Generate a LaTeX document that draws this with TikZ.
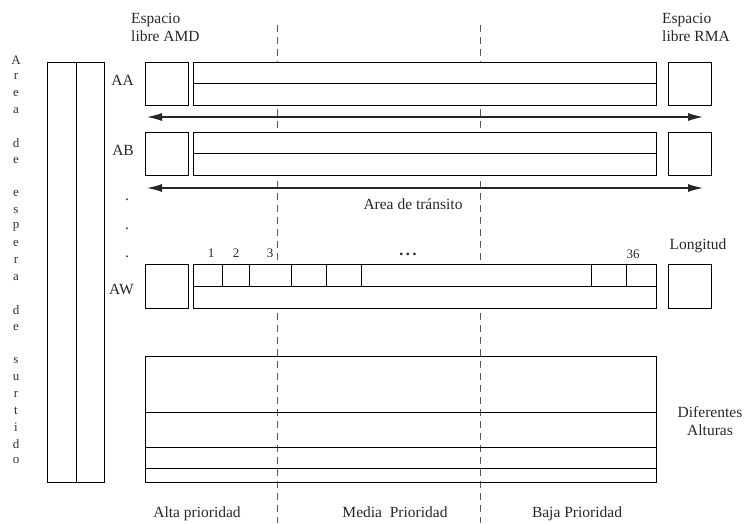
\documentclass[tikz,border=0pt]{standalone}
\usepackage{fontspec}
\setmainfont{Liberation Serif}
\usetikzlibrary{arrows.meta, positioning}

\begin{document}
\begin{tikzpicture}[x=1pt, y=-1pt, >={Latex[length=15pt,width=8pt]},
    box/.style={draw, line width=0.9pt},
    lane/.style={draw, gray!70!black, line width=0.6pt, dash pattern=on 7pt off 5pt},
    transit/.style={<->, line width=1.2pt, gray!30!black},
    lbl/.style={font=\fontsize{15.5}{18}\selectfont, text=black!85, inner sep=0pt, align=center},
    num/.style={lbl, font=\fontsize{13}{15}\selectfont},
    vlet/.style={font=\fontsize{13}{14}\selectfont, text=black!80, inner sep=0pt}]
    \useasboundingbox (0,0) rectangle (746,523);
    % priority lanes
    \draw[lane] (277,25) -- (277,523);
    \draw[lane] (480,25) -- (480,523);
    % waiting area
    \draw[box] (47,62) rectangle (104,482);
    \draw[box] (76,62) -- (76,482);
    \foreach \ch [count=\i from 0] in {A,r,e,a,{},d,e,{},e,s,p,e,r,a,{},d,e,{},s,u,r,t,i,d,o}
        \node[vlet] (let\i) at (16,60+\i*16.7) {\ch};
    % rows AA and AB
    \foreach \nm/\y in {AA/62, AB/132} {
        \draw[box, fill=white] (145,\y) rectangle (188,\y+43);
        \draw[box, fill=white] (193,\y) rectangle (656,\y+43);
        \draw[box] (193,\y+21.5) -- (656,\y+21.5);
        \draw[box, fill=white] (668,\y) rectangle (711,\y+43);
        \node[lbl, left] (\nm) at (134,\y+18) {\nm};
    }
    % row AW
    \draw[box, fill=white] (145,264) rectangle (188,308);
    \draw[box, fill=white] (193,264) rectangle (656,308);
    \draw[box] (193,286) -- (656,286);
    \foreach \cx in {222,249,291,326,361,591,626}
        \draw[box] (\cx,264) -- (\cx,286);
    \draw[box, fill=white] (668,264) rectangle (711,308);
    \node[lbl, left] (AW) at (134,289) {AW};
    \node[num] (c1) at (211,253) {1};
    \node[num] (c2) at (236,253) {2};
    \node[num] (c3) at (270,253) {3};
    \node[num] (c36) at (633,254) {36};
    \node[lbl, font=\fontsize{16}{18}\bfseries] (cdots) at (408,254) {.\,.\,.};
    \foreach \y [count=\k] in {200,229,257}
        \node[lbl] (dot\k) at (127,\y) {.};
    % transit corridors
    \coordinate (t1a) at (147,117);
    \coordinate (t1b) at (703,117);
    \coordinate (t2a) at (147,188);
    \coordinate (t2b) at (703,188);
    \draw[transit] (t1a) -- (t1b);
    \draw[transit] (t2a) -- (t2b);
    \node[lbl] (transito) at (413,204) {Area de tránsito};
    % heights block
    \draw[box] (145,356) rectangle (656,482);
    \foreach \hy in {412,447,468}
        \draw[box] (145,\hy) -- (656,\hy);
    % labels
    \node[lbl, align=left, anchor=west] (amd) at (131,27) {Espacio\\libre AMD};
    \node[lbl, align=left, anchor=west] (rma) at (662,27) {Espacio\\libre RMA};
    \node[lbl] (longitud) at (698,246) {Longitud};
    \node[lbl] (alturas) at (710,421) {Diferentes\\Alturas};
    \node[lbl, anchor=base] (alta) at (197,517) {Alta prioridad};
    \node[lbl, anchor=base] (media) at (395,517) {Media\ \ Prioridad};
    \node[lbl, anchor=base] (baja) at (577,517) {Baja Prioridad};
\end{tikzpicture}
\end{document}
